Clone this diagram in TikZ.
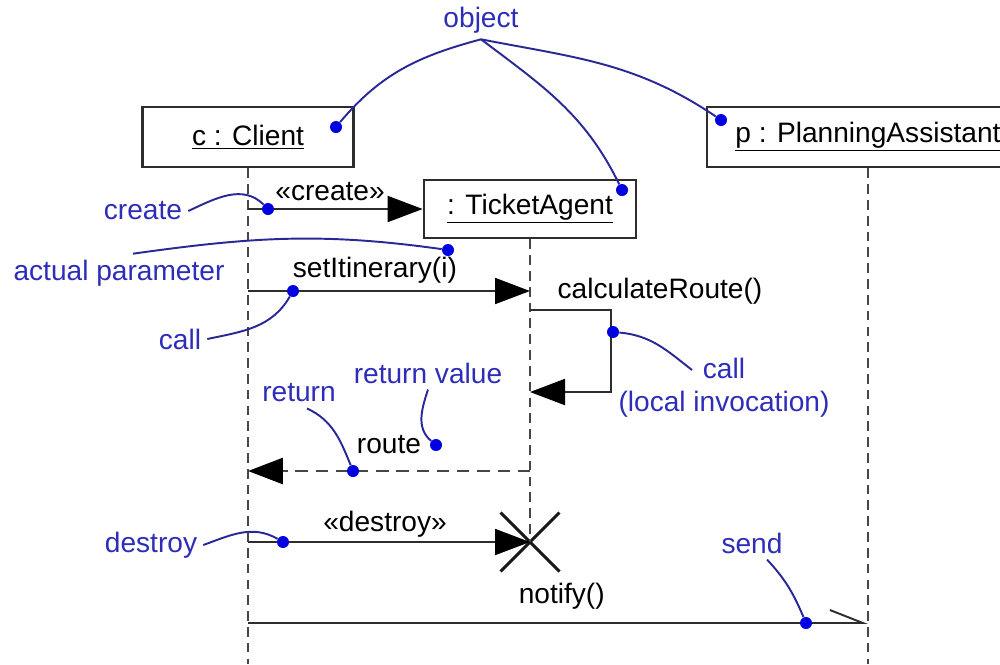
\documentclass[tikz,border=0pt]{standalone}
\usepackage{fontspec}
\setmainfont{Liberation Sans}
\usepackage{tikz}
\usetikzlibrary{arrows.meta, positioning, shapes.misc}
\definecolor{linecolor}{RGB}{45, 45, 45}
\definecolor{lifecolor}{RGB}{70, 70, 70}
\definecolor{notecolor}{RGB}{45, 45, 185}
\definecolor{notelinecolor}{RGB}{40, 40, 150}
\definecolor{dotcolor}{RGB}{0, 0, 225}
\tikzstyle{objbox} = [draw=linecolor, rectangle, line width=1.6pt, minimum height=1.2cm, text centered]
\tikzstyle{lifeline} = [draw=lifecolor, line width=1.3pt, dash pattern=on 5.5pt off 3.5pt]
\tikzstyle{message} = [draw=linecolor, line width=1.1pt, -{Triangle[length=0.7cm, width=0.52cm, color=black]}]
\tikzstyle{reply} = [message, draw=lifecolor, line width=1.6pt, dash pattern=on 7pt off 4.5pt]
\tikzstyle{async} = [draw=linecolor, line width=1.1pt, -{Straight Barb[left, length=0.66cm, width=0.52cm]}]
\tikzstyle{destroyed} = [draw=black!90, cross out, line width=1.7pt, minimum size=1.12cm, inner sep=0pt]
\tikzstyle{notetext} = [text=notecolor]
\tikzstyle{notelink} = [draw=notelinecolor, line width=1.1pt]
\tikzstyle{notedot} = [circle, fill=dotcolor, inner sep=0pt, minimum size=0.24cm]

\begin{document}
\begin{tikzpicture}[x=0.02cm, y=-0.02cm, font=\fontsize{16}{19}\selectfont]
\useasboundingbox (0,0) rectangle (1000,664);
\clip (0,0) rectangle (1000,664);

% Objects
\node (client) [objbox, minimum width=4.22cm] at (248,137) {\underline{c : Client}};
\node (ticket) [objbox, minimum width=4.24cm, minimum height=1.16cm] at (530,209) {\underline{: TicketAgent}};
\node (planner) [objbox, minimum width=6.44cm] at (868,137) {\underline{p : PlanningAssistant}};
\node (killed) [destroyed] at (530,542) {};

% Points on the lifelines
\coordinate (clientEnd) at (248,664);
\coordinate (plannerEnd) at (868,664);
\coordinate (createFrom) at (248,209);
\coordinate (callFrom) at (248,291);
\coordinate (callTo) at (530,291);
\coordinate (selfFrom) at (530,310);
\coordinate (selfTo) at (530,392);
\coordinate (replyFrom) at (530,471);
\coordinate (replyTo) at (248,471);
\coordinate (destroyFrom) at (248,542);
\coordinate (notifyFrom) at (248,623);
\coordinate (notifyTo) at (868,623);

% Lifelines
\draw [lifeline] (client.south) -- (clientEnd);
\draw [lifeline] (ticket.south) -- (killed.center);
\draw [lifeline] (planner.south) -- (plannerEnd);

% Messages
\draw [message] (createFrom) -- node[above, inner sep=4pt, pos=0.47] (createLbl) {«create»} (ticket.west);
\draw [message] (callFrom) -- node[above, inner sep=4pt, pos=0.45] (callLbl) {setItinerary(i)} (callTo);
\draw [message] (selfFrom) -- ++(81,0) |- (selfTo);
\node (calcLbl) at (660,291) {calculateRoute()};
\draw [reply] (replyFrom) -- node[above, inner sep=4pt, yshift=5pt, pos=0.5] (replyLbl) {route} (replyTo);
\draw [message] (destroyFrom) -- node[above, inner sep=4pt, yshift=-2pt, pos=0.486] (destroyLbl) {«destroy»} (killed.center);
\draw [async] (notifyFrom) -- node[above, inner sep=4pt, yshift=3pt, pos=0.506] (notifyLbl) {notify()} (notifyTo);

% Notes
\node (objectTxt) [notetext] at (481,20) {object};
\node (createTxt) [notetext] at (143,211) {create};
\node (paramTxt) [notetext] at (119,273) {actual parameter};
\node (callTxt) [notetext] at (180,339) {call};
\node (localTxt) [notetext, align=center] at (724,388) {call\\(local invocation)};
\node (valueTxt) [notetext] at (428,373) {return value};
\node (returnTxt) [notetext] at (299,393) {return};
\node (destroyTxt) [notetext] at (151,545) {destroy};
\node (sendTxt) [notetext] at (752,543) {send};

\node (dotClient) [notedot] at (336,127) {};
\node (dotTicket) [notedot] at (622,190) {};
\node (dotPlanner) [notedot] at (721,120) {};
\node (dotCreate) [notedot] at (268,209) {};
\node (dotParam) [notedot] at (448,250) {};
\node (dotCall) [notedot] at (293,291) {};
\node (dotLocal) [notedot] at (613,332) {};
\node (dotValue) [notedot] at (436,445) {};
\node (dotReturn) [notedot] at (353,471) {};
\node (dotDestroy) [notedot] at (283,542) {};
\node (dotSend) [notedot] at (806,623) {};

% Note links
\draw [notelink] (objectTxt.south) to[out=195, in=50] (dotClient);
\draw [notelink] (objectTxt.south) to[out=-37, in=116] (dotTicket);
\draw [notelink] (objectTxt.south) to[out=-11, in=146] (dotPlanner);
\draw [notelink] (createTxt.east) to[out=25, in=135] (dotCreate);
\draw [notelink] ([xshift=0.28cm]paramTxt.north) to[out=8, in=172] (dotParam);
\draw [notelink] (callTxt.east) to[out=12, in=-120] (dotCall);
\draw [notelink] ([shift={(-32,18)}]localTxt.north) to[out=142, in=-5] (dotLocal);
\draw [notelink] (valueTxt.south) to[out=-108, in=140] (dotValue);
\draw [notelink] ([xshift=0.16cm]returnTxt.south) to[out=-25, in=112] (dotReturn);
\draw [notelink] (destroyTxt.east) to[out=20, in=150] (dotDestroy);
\draw [notelink] ([xshift=0.3cm]sendTxt.south) to[out=-47, in=113] (dotSend);

\end{tikzpicture}
\end{document}
